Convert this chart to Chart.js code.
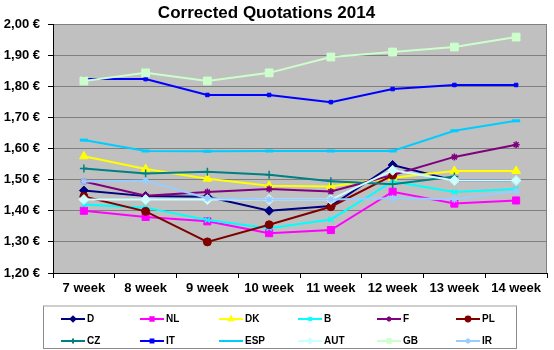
<!DOCTYPE html>
<html>
<head>
<meta charset="utf-8">
<script src="https://cdn.jsdelivr.net/npm/chart.js@4/dist/chart.umd.min.js"></script>
<style>
  html, body { margin: 0; padding: 0; background: #fff; }
  #wrap { position: relative; width: 554px; height: 350px; overflow: hidden; font-family: "Liberation Sans", Arial, sans-serif; }
  #title { position: absolute; left: 0; width: 533px; top: 3px; text-align: center; font-weight: bold; font-size: 17px; line-height: 20px; color: #000; }
  #legend { position: absolute; left: 43px; top: 305px; width: 474px; height: 44px; border: 1px solid #8c8c8c; border-top: 2px solid #cfcfcf; box-sizing: border-box; }
  .li { position: absolute; height: 12px; }
  .li canvas { position: absolute; left: 0; top: 0; }
  .li span { position: absolute; left: 26px; top: -1px; font-weight: bold; font-size: 10px; line-height: 14px; color: #000; white-space: nowrap; }
</style>
</head>
<body>
<div id="wrap">
  <canvas id="c" width="554" height="350"></canvas>
  <div id="title">Corrected Quotations 2014</div>
  <div id="legend"></div>
</div>
<script>
// ---- data ----
const categories = ['7 week', '8 week', '9 week', '10 week', '11 week', '12 week', '13 week', '14 week'];
const seriesNames = ['D', 'NL', 'DK', 'B', 'F', 'PL', 'CZ', 'IT', 'ESP', 'AUT', 'GB', 'IR'];
const D   = [1.465, 1.447, 1.445, 1.400, 1.415, 1.547, 1.497, 1.497];
const NL  = [1.400, 1.380, 1.366, 1.328, 1.338, 1.461, 1.423, 1.433];
const DK  = [1.575, 1.534, 1.503, 1.480, 1.478, 1.506, 1.528, 1.528];
const B   = [1.420, 1.410, 1.370, 1.344, 1.372, 1.494, 1.460, 1.470];
const F   = [1.494, 1.448, 1.460, 1.470, 1.462, 1.515, 1.573, 1.612];
const PL  = [1.446, 1.398, 1.300, 1.355, 1.413, 1.514, null, null];
const CZ  = [1.536, 1.520, 1.525, 1.516, 1.495, 1.485, 1.510, null];
const IT  = [1.823, 1.823, 1.772, 1.772, 1.749, 1.791, 1.804, 1.804];
const ESP = [1.627, 1.592, 1.591, 1.592, 1.592, 1.592, 1.657, 1.689];
const AUT = [1.436, 1.436, 1.436, 1.436, 1.436, 1.530, 1.497, 1.497];
const GB  = [1.817, 1.843, 1.817, 1.843, 1.894, 1.910, 1.926, 1.958];
const IR  = [1.494, 1.496, 1.440, 1.436, 1.436, 1.440, 1.437, 1.463];
const yTicks = [1.2, 1.3, 1.4, 1.5, 1.6, 1.7, 1.8, 1.9, 2.0];

const seriesValues = [D, NL, DK, B, F, PL, CZ, IT, ESP, AUT, GB, IR];
const styles = [
  { color: '#000080', point: 'rectRot',  r: 4.5, bw: 1 },
  { color: '#FF00FF', point: 'rect',     r: 5,   bw: 1 },
  { color: '#FFFF00', point: 'triangle', r: 5,   bw: 1 },
  { color: '#00FFFF', point: 'crossRot', r: 3.5, bw: 1.5 },
  { color: '#800080', point: 'star',     r: 3.5, bw: 1.5 },
  { color: '#800000', point: 'circle',   r: 4,   bw: 1 },
  { color: '#008080', point: 'cross',    r: 4,   bw: 1.5 },
  { color: '#0000FF', point: 'rect',     r: 2.5, bw: 1 },
  { color: '#00CCFF', point: 'line',     r: 4,   bw: 3 },
  { color: '#CCFFFF', point: 'rectRot',  r: 5,   bw: 1 },
  { color: '#CCFFCC', point: 'rect',     r: 5.5, bw: 1 },
  { color: '#99CCFF', point: 'star',     r: 3.5, bw: 1.5 }
];

const datasets = seriesNames.map((name, i) => ({
  label: name,
  data: seriesValues[i],
  borderColor: styles[i].color,
  backgroundColor: styles[i].color,
  borderWidth: 2,
  pointStyle: styles[i].point,
  pointRadius: styles[i].r,
  pointBorderWidth: styles[i].bw,
  pointBackgroundColor: styles[i].color,
  pointBorderColor: styles[i].color,
  tension: 0,
  spanGaps: false,
  order: -i
}));

const plotBg = {
  id: 'plotBg',
  beforeDraw(chart) {
    const a = chart.chartArea, ctx = chart.ctx;
    ctx.save();
    ctx.fillStyle = '#C0C0C0';
    ctx.fillRect(a.left, a.top, a.right - a.left, a.bottom - a.top);
    ctx.restore();
  },
  beforeDatasetsDraw(chart) {
    const a = chart.chartArea, ctx = chart.ctx;
    ctx.save();
    ctx.strokeStyle = '#808080';
    ctx.lineWidth = 1;
    ctx.beginPath();
    ctx.moveTo(a.right - 0.5, a.top);
    ctx.lineTo(a.right - 0.5, a.bottom);
    ctx.stroke();
    ctx.restore();
  }
};

const font = { family: '"Liberation Sans", Arial, sans-serif', size: 13, weight: 'bold' };

new Chart(document.getElementById('c'), {
  type: 'line',
  data: { labels: categories, datasets },
  options: {
    responsive: false,
    devicePixelRatio: 1,
    animation: false,
    layout: { padding: { top: 24, left: 0, right: 3, bottom: 50 } },
    plugins: { legend: { display: false }, title: { display: false }, tooltip: { enabled: false } },
    scales: {
      x: {
        offset: true,
        grid: { offset: true, drawOnChartArea: false, drawTicks: true, tickLength: 5, tickColor: '#000' },
        border: { color: '#000', width: 1 },
        ticks: { color: '#000', font, padding: 3, maxRotation: 0, autoSkip: false },
        afterFit(s) { s.height = 27; }
      },
      y: {
        min: 1.2, max: 2.0,
        afterBuildTicks(s) { s.ticks = yTicks.map(v => ({ value: v })); },
        grid: { color: '#808080', lineWidth: 1, tickLength: 5, tickColor: '#000' },
        border: { color: '#000', width: 1 },
        ticks: {
          color: '#000', font, padding: 8,
          callback: v => Number(v).toFixed(2).replace('.', ',') + ' €'
        },
        afterFit(s) { s.width = 53; }
      }
    }
  },
  plugins: [plotBg]
});

// ---- legend ----
const legend = document.getElementById('legend');
seriesNames.forEach((name, i) => {
  const col = i % 6, row = Math.floor(i / 6);
  const item = document.createElement('div');
  item.className = 'li';
  item.style.left = (17 + 79 * col) + 'px';
  item.style.top = (6 + 22 * row) + 'px';
  const cv = document.createElement('canvas');
  cv.width = 26; cv.height = 12;
  const ctx = cv.getContext('2d');
  ctx.strokeStyle = styles[i].color;
  ctx.lineWidth = 2;
  ctx.beginPath(); ctx.moveTo(0, 6); ctx.lineTo(24, 6); ctx.stroke();
  ctx.fillStyle = styles[i].color;
  Chart.helpers.drawPoint(ctx, { pointStyle: styles[i].point, radius: Math.min(styles[i].r, 3) * 0.8, borderWidth: 1 }, 12, 6);
  const sp = document.createElement('span');
  sp.textContent = name;
  item.appendChild(cv); item.appendChild(sp);
  legend.appendChild(item);
});
</script>
</body>
</html>
